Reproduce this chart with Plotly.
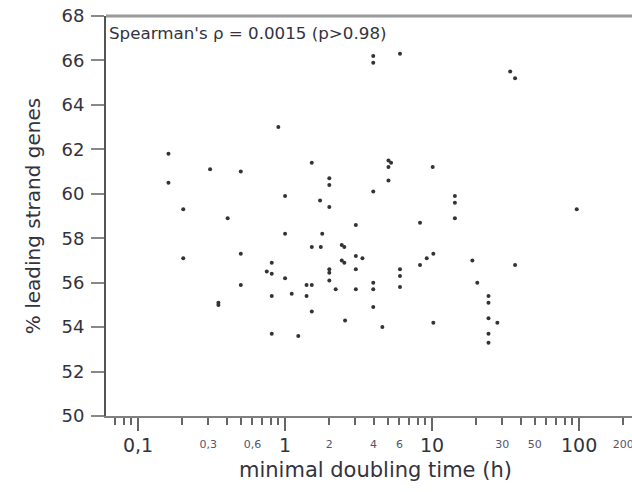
import numpy as np
import plotly.graph_objects as go

# minimal doubling time (h) and % leading strand genes
doubling_time = [
    0.161, 0.161, 0.203, 0.203, 0.309, 0.50, 0.407, 0.50, 0.50, 0.352,
    0.352, 0.90, 1.0, 1.0, 1.0, 0.812, 0.751, 0.812, 0.812, 0.812,
    1.11, 1.23, 1.40, 1.52, 1.40, 1.52, 1.52, 1.52, 1.75, 1.73,
    1.79, 2.0, 2.0, 2.0, 2.0, 2.0, 2.0, 2.21, 2.43, 2.53,
    2.43, 2.53, 2.56, 3.03, 3.36, 3.03, 3.03, 3.03, 3.98, 3.98,
    3.98, 3.98, 3.98, 3.98, 4.59, 5.05, 5.26, 5.05, 5.05, 6.05,
    6.05, 6.05, 6.05, 8.28, 8.28, 9.2, 10.2, 10.1, 10.2, 14.3,
    14.3, 14.3, 18.8, 20.3, 24.2, 24.2, 24.2, 24.2, 24.2, 27.8,
    34.0, 36.7, 36.7, 96.4,
]
leading_pct = [
    61.8, 60.5, 59.3, 57.1, 61.1, 61.0, 58.9, 57.3, 55.9, 55.0,
    55.1, 63.0, 59.9, 58.2, 56.2, 56.9, 56.5, 56.4, 55.4, 53.7,
    55.5, 53.6, 55.9, 55.9, 55.4, 54.7, 61.4, 57.6, 57.6, 59.7,
    58.2, 60.7, 60.4, 59.4, 56.6, 56.45, 56.1, 55.7, 57.7, 57.6,
    57.0, 56.9, 54.3, 57.2, 57.1, 56.6, 55.7, 58.6, 60.1, 56.0,
    55.7, 54.9, 66.2, 65.9, 54.0, 61.5, 61.4, 61.2, 60.6, 66.3,
    56.6, 56.3, 55.8, 58.7, 56.8, 57.1, 57.3, 61.2, 54.2, 59.9,
    59.6, 58.9, 57.0, 56.0, 55.4, 55.1, 54.4, 53.7, 53.3, 54.2,
    65.5, 65.2, 56.8, 59.3,
]

major_vals = [0.1, 1, 10, 100]
major_text = ["0,1", "1", "10", "100"]
minor_vals = [0.07, 0.08, 0.09, 0.2, 0.3, 0.4, 0.5, 0.6, 0.7, 0.8, 0.9,
              2, 3, 4, 5, 6, 7, 8, 9, 20, 30, 40, 50, 60, 70, 80, 90, 200]
small_vals = [0.3, 0.6, 2, 4, 6, 30, 50, 200]
small_text = ["0,3", "0,6", "2", "4", "6", "30", "50", "200"]
y_ticks = list(range(50, 69, 2))

xrange_log = [-1.218, 2.36]
FONT = "DejaVu Sans"
TXT = "#33333d"

fig = go.Figure()
fig.add_trace(go.Scatter(
    x=doubling_time, y=leading_pct, mode="markers",
    marker=dict(size=4, color="#333333"), showlegend=False,
))
# dummy trace so the overlay axis with the small labels gets drawn
fig.add_trace(go.Scatter(
    x=[1], y=[50], xaxis="x2", mode="markers",
    marker=dict(size=1, opacity=0), showlegend=False, hoverinfo="skip",
))

fig.update_layout(
    width=632, height=492,
    margin=dict(l=106, r=0, t=16, b=76),
    paper_bgcolor="white", plot_bgcolor="white",
    font=dict(family=FONT, color=TXT),
    xaxis=dict(
        type="log", range=xrange_log, automargin=False,
        tickmode="array", tickvals=major_vals, ticktext=major_text,
        ticks="outside", ticklen=13, tickwidth=2, tickcolor="#666",
        tickfont=dict(size=19, color=TXT), ticklabelstandoff=-2,
        showline=True, linecolor="#808080", linewidth=2,
        showgrid=False, zeroline=False,
        minor=dict(tickmode="array", tickvals=minor_vals, ticks="outside",
                   ticklen=7, tickwidth=2, tickcolor="#666", showgrid=False),
    ),
    xaxis2=dict(
        type="log", range=xrange_log, overlaying="x", anchor="y", side="bottom",
        automargin=False, ticklabeloverflow="allow",
        tickmode="array", tickvals=small_vals, ticktext=small_text,
        ticks="", tickfont=dict(size=11, color="#55556a"),
        ticklabelstandoff=20,
        showline=False, showgrid=False, zeroline=False,
    ),
    yaxis=dict(
        range=[50, 68], tickmode="array", tickvals=y_ticks, automargin=False,
        ticklabeloverflow="allow",
        ticks="outside", ticklen=13, tickwidth=2, tickcolor="#888",
        tickfont=dict(size=18, color=TXT), ticklabelstandoff=3,
        showline=True, linecolor="#555", linewidth=2,
        showgrid=False, zeroline=False,
        title=dict(text="% leading strand genes", font=dict(size=20, color=TXT), standoff=15),
    ),
    shapes=[dict(type="line", xref="paper", yref="paper", x0=0, x1=1, y0=1, y1=1,
                 line=dict(color="#9a9a9a", width=3))],
    annotations=[
        dict(text="Spearman's ρ = 0.0015 (p>0.98)", xref="paper", yref="paper",
             x=0, y=1, xanchor="left", yanchor="top", xshift=1, yshift=-5,
             showarrow=False, font=dict(size=16.7, color=TXT)),
        # x title as annotation: the original plot area runs past the crop on the right
        dict(text="minimal doubling time (h)", xref="paper", yref="paper",
             x=0.5, y=0, xanchor="center", yanchor="middle", xshift=6, yshift=-54,
             showarrow=False, font=dict(size=21, color=TXT)),
    ],
)

# drop the default 8px body margin so the figure sits at the page corner
fig.write_html("out.html", config={"displayModeBar": False},
               post_script="document.body.style.margin = '0px';")
